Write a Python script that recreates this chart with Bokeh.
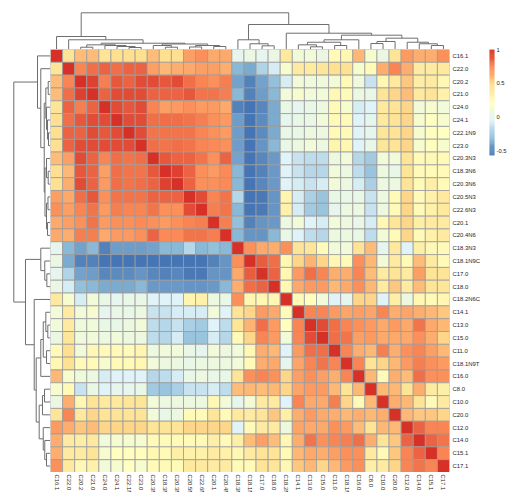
import math
import numpy as np
from bokeh.plotting import figure
from bokeh.models import (Range1d, FactorRange, FixedTicker, CustomJSTickFormatter,
                          ColumnDataSource, Spacer)
from bokeh.layouts import row, column
from bokeh.transform import linear_cmap
from bokeh.core.properties import value
from bokeh.embed import file_html
from bokeh.resources import INLINE

labels = ["C16.1", "C22.0", "C20.2", "C21.0", "C24.0", "C24.1", "C22.1N9", "C23.0",
          "C20.3N3", "C18.3N6", "C20.3N6", "C20.5N3", "C22.6N3", "C20.1", "C20.4N6",
          "C18.3N3", "C18.1N9C", "C17.0", "C18.0", "C18.2N6C", "C14.1", "C13.0",
          "C15.0", "C11.0", "C18.1N9T", "C16.0", "C8.0", "C10.0", "C20.0", "C12.0",
          "C14.0", "C15.1", "C17.1"]

# upper triangle of the correlation matrix, row i holds columns i+1 .. 32
upper = [
    [0.45, 0.58, 0.58, 0.45, 0.47, 0.47, 0.47, 0.58, 0.47, 0.47, 0.68, 0.72, 0.65, 0.64, 0.0, 0.05, 0.0, 0.05, 0.4, 0.1, 0.1, 0.05, 0.25, 0.28, 0.6, 0.15, 0.05, 0.45, 0.7, 0.63, 0.63, 0.73],
    [0.75, 0.82, 0.85, 0.82, 0.85, 0.85, 0.68, 0.6, 0.63, 0.65, 0.68, 0.68, 0.63, -0.33, -0.37, -0.2, -0.07, 0.15, 0.38, 0.38, 0.42, 0.47, 0.46, 0.15, 0.25, 0.63, 0.75, 0.63, 0.38, 0.38, 0.4],
    [0.95, 0.78, 0.88, 0.85, 0.92, 0.92, 0.88, 0.92, 0.82, 0.75, 0.73, 0.78, -0.4, -0.52, -0.4, -0.3, -0.07, 0.1, 0.08, 0.08, 0.1, 0.25, 0.08, -0.12, 0.27, 0.4, 0.55, 0.36, 0.38, 0.27],
    [0.85, 0.92, 0.92, 0.92, 0.85, 0.85, 0.85, 0.88, 0.8, 0.8, 0.78, -0.32, -0.52, -0.42, -0.33, 0.1, 0.15, 0.1, 0.1, 0.27, 0.25, 0.07, 0.03, 0.45, 0.5, 0.58, 0.4, 0.45, 0.33],
    [0.92, 0.88, 0.92, 0.75, 0.68, 0.7, 0.72, 0.7, 0.7, 0.65, -0.52, -0.57, -0.5, -0.37, 0.03, 0.0, 0.03, 0.07, 0.25, 0.15, -0.08, -0.04, 0.4, 0.45, 0.5, 0.1, 0.15, 0.1],
    [0.92, 0.92, 0.82, 0.82, 0.82, 0.8, 0.78, 0.72, 0.7, -0.42, -0.57, -0.48, -0.37, 0.0, 0.03, 0.03, 0.1, 0.25, 0.25, -0.05, 0.0, 0.4, 0.45, 0.5, 0.15, 0.2, 0.15],
    [0.92, 0.8, 0.8, 0.8, 0.8, 0.76, 0.72, 0.7, -0.42, -0.57, -0.48, -0.37, 0.03, 0.03, 0.07, 0.07, 0.25, 0.25, -0.05, 0.0, 0.42, 0.45, 0.5, 0.15, 0.22, 0.2],
    [0.82, 0.8, 0.82, 0.8, 0.76, 0.74, 0.72, -0.42, -0.57, -0.46, -0.33, 0.03, 0.07, 0.1, 0.07, 0.3, 0.28, -0.05, 0.03, 0.42, 0.45, 0.5, 0.15, 0.22, 0.15],
    [0.88, 0.85, 0.85, 0.8, 0.72, 0.85, -0.4, -0.57, -0.5, -0.43, -0.05, -0.12, -0.15, -0.15, 0.07, 0.1, -0.18, -0.25, 0.1, 0.1, 0.45, 0.25, 0.27, 0.25],
    [0.95, 0.85, 0.72, 0.7, 0.74, -0.33, -0.57, -0.52, -0.43, -0.05, -0.12, -0.18, -0.18, 0.1, 0.07, -0.15, -0.28, 0.07, 0.03, 0.45, 0.25, 0.25, 0.25],
    [0.85, 0.72, 0.72, 0.74, -0.33, -0.57, -0.5, -0.43, -0.05, -0.08, -0.12, -0.08, 0.1, 0.07, -0.08, -0.22, 0.07, 0.07, 0.45, 0.25, 0.35, 0.25],
    [0.92, 0.76, 0.8, -0.18, -0.57, -0.55, -0.46, 0.3, -0.08, -0.22, -0.28, 0.03, 0.03, 0.03, -0.12, 0.07, 0.25, 0.5, 0.25, 0.33, 0.4],
    [0.78, 0.8, -0.32, -0.57, -0.55, -0.46, 0.33, -0.08, -0.25, -0.28, 0.0, 0.07, 0.07, -0.12, 0.07, 0.25, 0.5, 0.25, 0.33, 0.4],
    [0.78, -0.3, -0.52, -0.46, -0.43, 0.07, 0.1, -0.05, -0.08, 0.1, 0.07, 0.03, -0.08, 0.27, 0.42, 0.5, 0.35, 0.38, 0.38],
    [-0.32, -0.46, -0.46, -0.32, 0.03, -0.05, -0.15, -0.18, 0.07, 0.07, 0.03, -0.15, 0.1, 0.25, 0.5, 0.25, 0.33, 0.38],
    [0.72, 0.65, 0.63, 0.72, 0.45, 0.42, 0.25, 0.1, 0.1, 0.45, 0.58, 0.0, 0.4, -0.05, 0.35, 0.27, 0.25],
    [0.87, 0.82, 0.28, 0.5, 0.62, 0.5, 0.27, 0.25, 0.72, 0.6, 0.12, 0.38, 0.25, 0.58, 0.38, 0.25],
    [0.85, 0.28, 0.7, 0.82, 0.76, 0.63, 0.63, 0.76, 0.58, 0.38, 0.45, 0.38, 0.68, 0.45, 0.45],
    [0.28, 0.65, 0.7, 0.7, 0.6, 0.65, 0.72, 0.6, 0.38, 0.55, 0.38, 0.58, 0.45, 0.42],
    [0.25, 0.22, 0.1, -0.05, 0.0, 0.5, 0.5, -0.05, 0.35, 0.07, 0.28, 0.25, 0.28],
    [0.76, 0.76, 0.7, 0.66, 0.68, 0.66, 0.76, 0.63, 0.66, 0.63, 0.6, 0.55],
    [0.92, 0.82, 0.76, 0.72, 0.7, 0.65, 0.7, 0.65, 0.8, 0.65, 0.6],
    [0.82, 0.8, 0.68, 0.7, 0.65, 0.65, 0.65, 0.72, 0.63, 0.5],
    [0.76, 0.63, 0.6, 0.78, 0.63, 0.72, 0.76, 0.68, 0.6],
    [0.76, 0.45, 0.5, 0.6, 0.7, 0.78, 0.72, 0.7],
    [0.6, 0.25, 0.63, 0.58, 0.82, 0.72, 0.72],
    [0.6, 0.6, 0.45, 0.63, 0.38, 0.35],
    [0.63, 0.6, 0.45, 0.25, 0.38],
    [0.6, 0.55, 0.55, 0.5],
    [0.85, 0.76, 0.76],
    [0.85, 0.8],
    [0.76],
]

# dendrogram merges (ids 0..32 are leaves in display order, 33+k is merge k)
merge_left = [6, 5, 4, 2, 36, 9, 8, 11, 13, 40, 39, 37, 1, 0,
              17, 16, 15, 21, 20, 23, 51, 53, 26, 55, 31, 30, 29, 56, 54, 19, 49, 46]
merge_right = [7, 33, 34, 3, 35, 10, 38, 12, 14, 41, 42, 43, 44, 45,
               18, 47, 48, 22, 50, 24, 52, 25, 27, 28, 32, 57, 58, 59, 60, 61, 62, 63]
merge_height = [0.26, 0.39, 0.52, 0.30, 0.61, 0.30, 0.52, 0.33, 0.39, 0.52, 0.72, 0.82, 1.27, 1.70,
                0.48, 0.75, 1.27, 0.35, 0.61, 0.52, 0.95, 1.27, 0.78, 1.05, 0.52, 0.75, 0.95, 1.48,
                1.87, 2.13, 3.27, 4.80]

legend_ticks = [-0.5, 0, 0.5, 1]

# ---------------------------------------------------------------------------
n = len(labels)
M = np.eye(n)
for i, vals in enumerate(upper):
    for k, v in enumerate(vals):
        j = i + 1 + k
        M[i, j] = v
        M[j, i] = v
vmin, vmax = float(M.min()), float(M.max())

base = ["#4575B4", "#91BFDB", "#E0F3F8", "#FFFFBF", "#FEE090", "#FC8D59", "#D73027"]
rgb = np.array([[int(c[i:i + 2], 16) for i in (1, 3, 5)] for c in base], float)
pos = np.linspace(0, 1, len(base))
tt = np.linspace(0, 1, 100)
pal = ["#%02x%02x%02x" % tuple(int(round(np.interp(t, pos, rgb[:, c]))) for c in range(3)) for t in tt]

FONT = "Liberation Sans"
FS = "5.9px"
TXT = "#1e1e1e"
LINE = "#6e6e6e"

DL = 50      # left dendrogram width
DT = 49      # top dendrogram height
HW = 402     # heatmap frame width
HH = 423     # heatmap frame height
RB = 31      # room for row labels
BS = 20      # room for column labels
DSPAN = 36.7 # pixel span of the tallest merge

# heatmap
xs, ys, vs = [], [], []
for i in range(n):
    for j in range(n):
        xs.append(labels[j]); ys.append(labels[i]); vs.append(M[i, j])
src = ColumnDataSource(dict(x=xs, y=ys, v=vs))

xr = FactorRange(factors=labels)
heat = figure(width=HW + RB, height=HH, x_range=xr, y_range=FactorRange(factors=labels[::-1]),
              x_axis_location=None, y_axis_location="right", toolbar_location=None,
              output_backend="svg", min_border_left=0, min_border_top=0,
              min_border_bottom=0, min_border_right=RB, outline_line_color=None)
heat.rect(x="x", y="y", width=1, height=1, source=src,
          fill_color=linear_cmap("v", pal, vmin, vmax), line_color="#9c9c9c", line_width=0.8)
heat.grid.visible = False
ax = heat.yaxis[0]
ax.axis_line_color = None
ax.major_tick_line_color = None
ax.minor_tick_line_color = None
ax.major_tick_out = 0
ax.major_tick_in = 0
ax.major_label_standoff = 3
ax.major_label_text_font = FONT
ax.major_label_text_font_size = FS
ax.major_label_text_color = TXT

# column labels strip
strip = figure(width=HW + RB, height=BS, x_range=xr, y_range=Range1d(0, 1),
               x_axis_location=None, y_axis_location=None, toolbar_location=None,
               output_backend="svg", min_border_left=0, min_border_top=0,
               min_border_bottom=0, min_border_right=RB, outline_line_color=None)
strip.grid.visible = False
strip.text(x=labels, y=1, text=labels, angle=-math.pi / 2, text_align="left",
           text_baseline="middle", y_offset=2, text_font=value(FONT),
           text_font_size=FS, text_color=TXT)

# dendrogram geometry from merges
npos = {i: i + 0.5 for i in range(n)}
nh = {i: 0.0 for i in range(n)}
seg_p, seg_h = [], []
for k, (a, b, h) in enumerate(zip(merge_left, merge_right, merge_height)):
    xa, xb = npos[a], npos[b]
    seg_p.append([xa, xa, xb, xb])
    seg_h.append([nh[a], h, h, nh[b]])
    npos[n + k] = (xa + xb) / 2
    nh[n + k] = h
hmax = max(merge_height)

top = figure(width=HW + RB, height=DT, x_range=Range1d(0, n), y_range=Range1d(0, hmax * DT / DSPAN),
             x_axis_location=None, y_axis_location=None, toolbar_location=None,
             output_backend="svg", min_border_left=0, min_border_top=0,
             min_border_bottom=0, min_border_right=RB, outline_line_color=None)
top.grid.visible = False
top.multi_line(xs=seg_p, ys=seg_h, line_color=LINE, line_width=1)

left = figure(width=DL, height=HH, x_range=Range1d(hmax * DL / DSPAN, 0), y_range=Range1d(n, 0),
              x_axis_location=None, y_axis_location=None, toolbar_location=None,
              output_backend="svg", min_border_left=0, min_border_top=0,
              min_border_bottom=0, min_border_right=0, outline_line_color=None)
left.grid.visible = False
left.multi_line(xs=seg_h, ys=seg_p, line_color=LINE, line_width=1)

# colour legend
total_h = DT + HH + BS
brk = np.linspace(vmin, vmax, len(pal) + 1)
leg = figure(width=26, height=total_h, x_range=Range1d(0, 1), y_range=Range1d(vmin, vmax),
             x_axis_location=None, y_axis_location="right", toolbar_location=None,
             output_backend="svg", min_border_left=6, min_border_top=DT,
             min_border_bottom=total_h - DT - 106, min_border_right=12, outline_line_color=None)
leg.grid.visible = False
leg.quad(left=0, right=1, bottom=brk[:-1], top=brk[1:], fill_color=pal, line_color=pal, line_width=0.5)
la = leg.yaxis[0]
la.ticker = FixedTicker(ticks=legend_ticks)
la.formatter = CustomJSTickFormatter(code="return String(tick)")
la.axis_line_color = None
la.major_tick_line_color = None
la.minor_tick_line_color = None
la.major_tick_out = 0
la.major_tick_in = 0
la.major_label_standoff = 2
la.major_label_text_font = FONT
la.major_label_text_font_size = "5.8px"
la.major_label_text_color = TXT

layout = row(column(Spacer(width=DL, height=DT), left, Spacer(width=DL, height=BS)),
             column(top, heat, strip),
             leg)

open("out.html", "w").write(file_html(layout, INLINE))
